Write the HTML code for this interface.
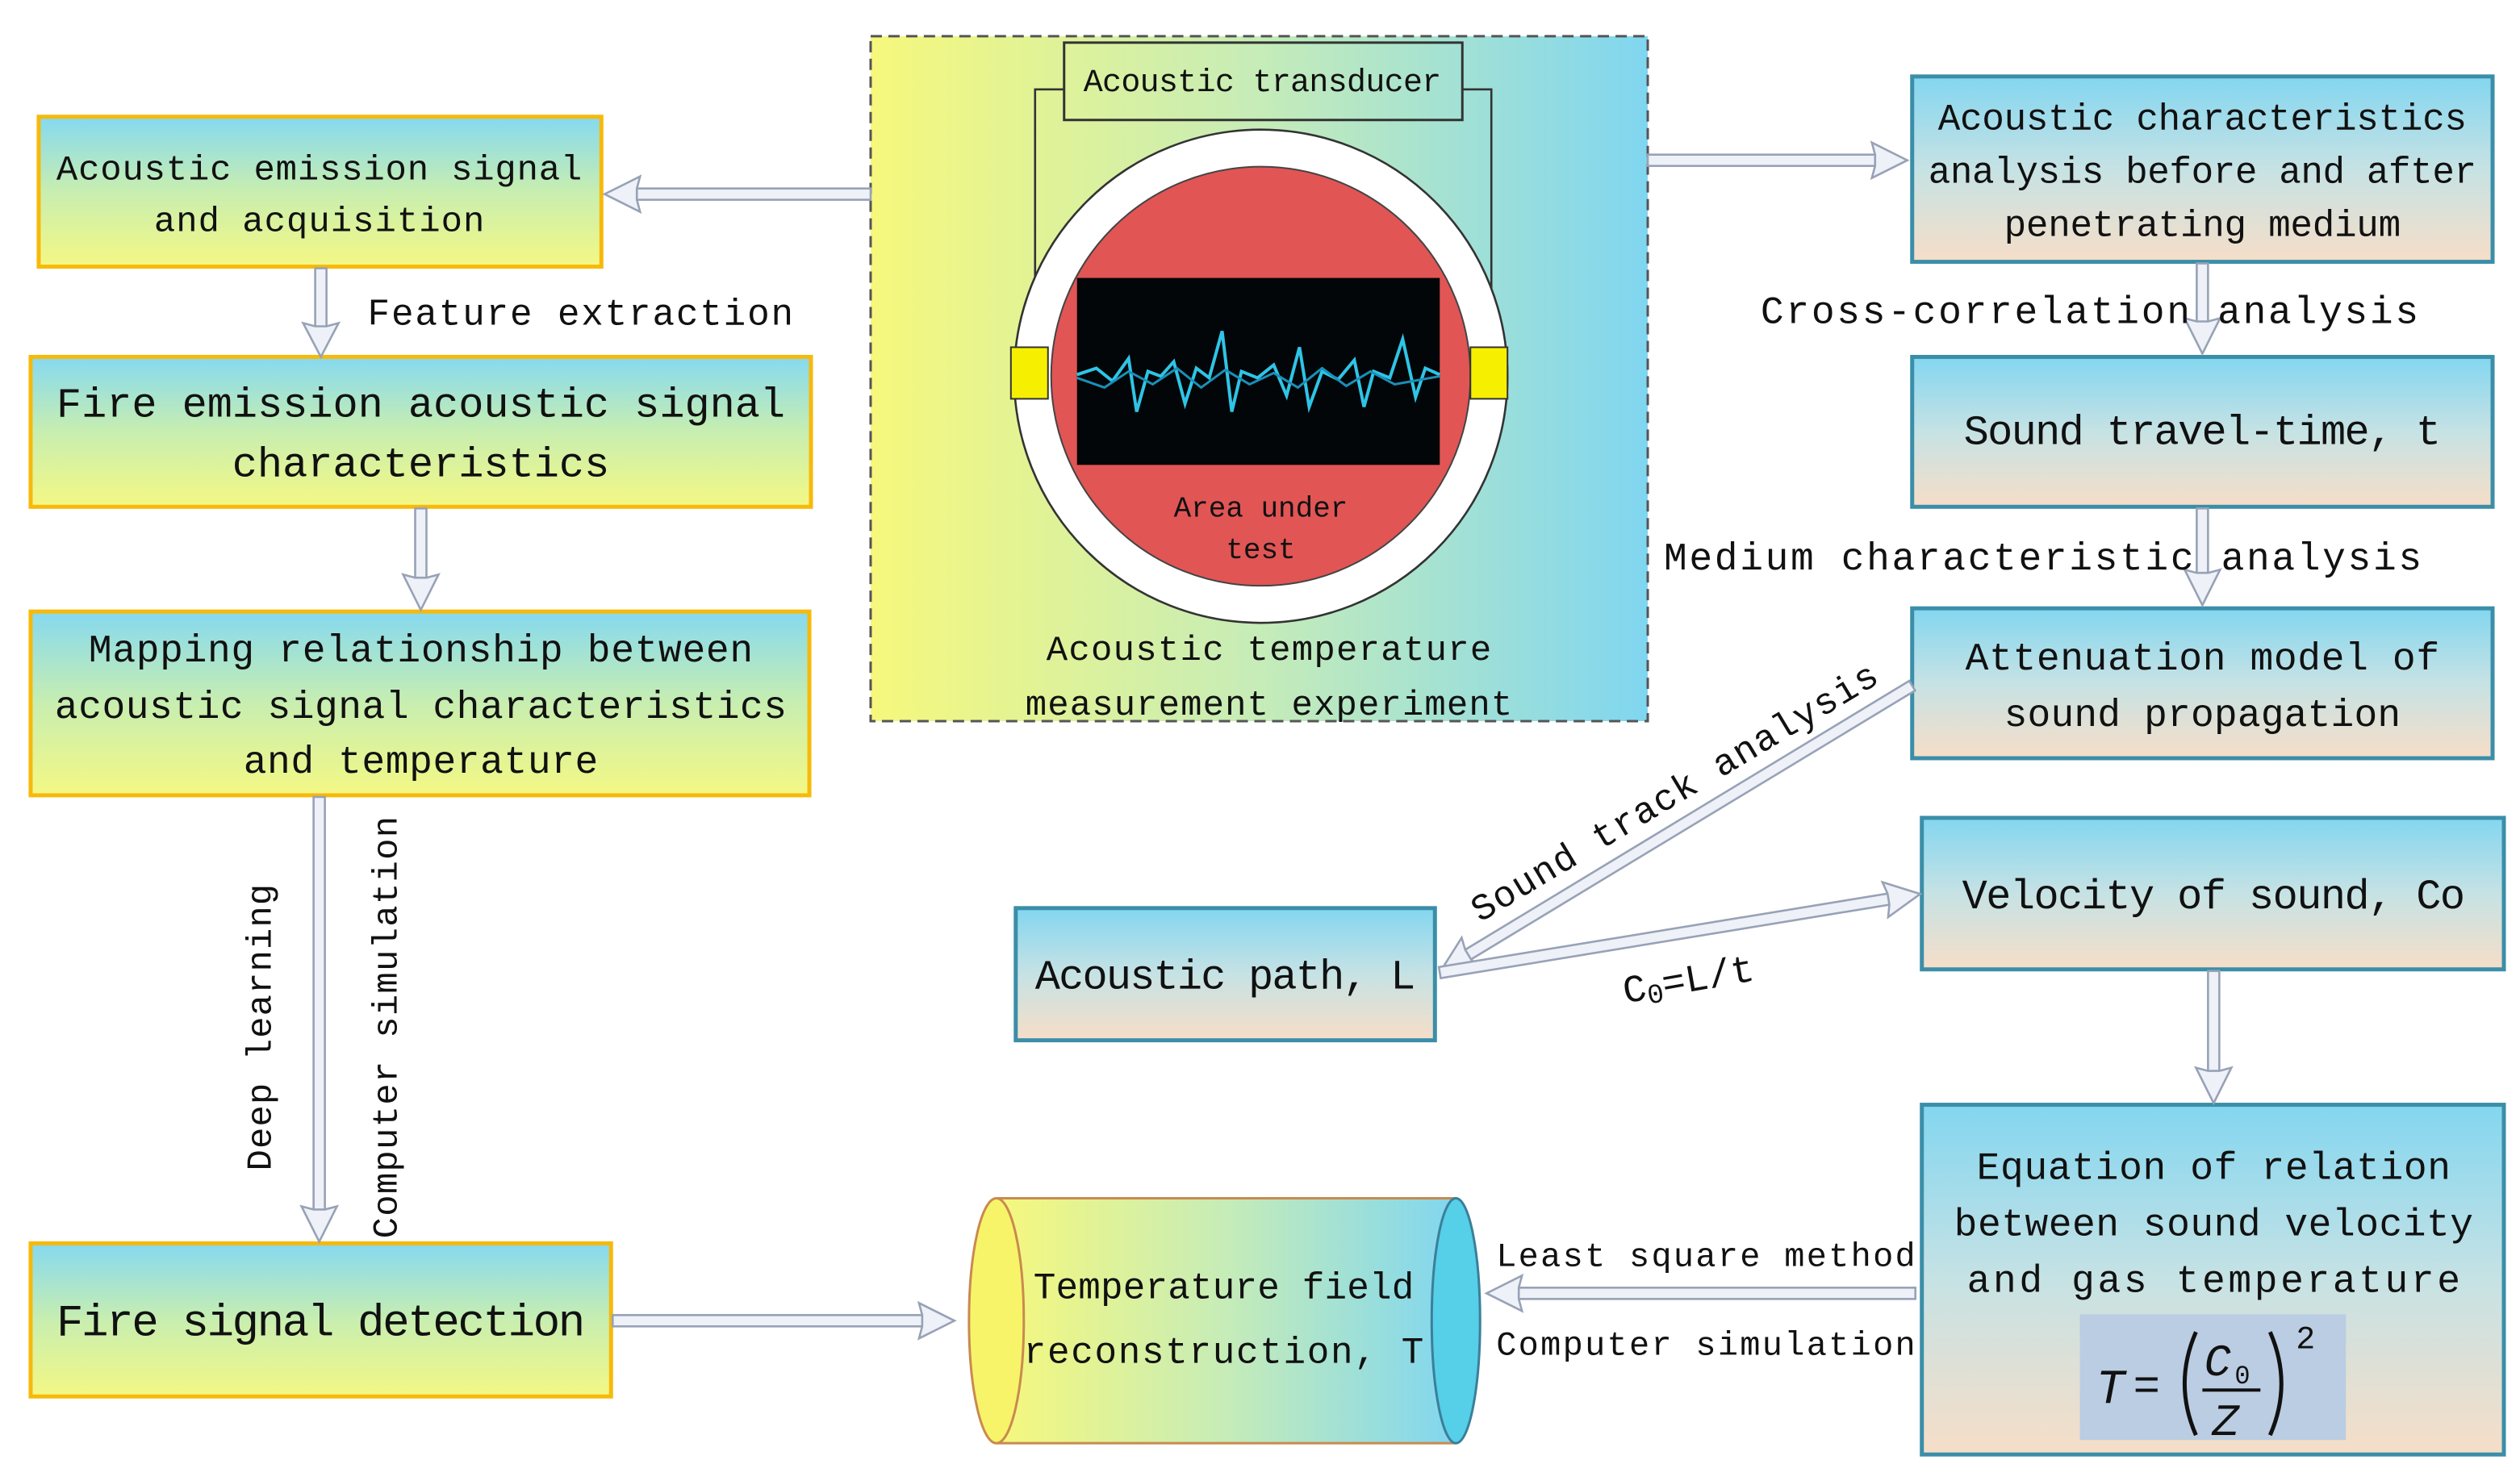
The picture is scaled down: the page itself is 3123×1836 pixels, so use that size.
<!DOCTYPE html>
<html><head><meta charset="utf-8"><style>
html,body{margin:0;padding:0;background:#fff;}
svg{display:block;}
text{font-family:"Liberation Mono","Noto Sans CJK SC",monospace;fill:#111;}
</style></head><body>
<svg width="3123" height="1836" viewBox="0 0 1563 918" xmlns="http://www.w3.org/2000/svg">
<defs>
<linearGradient id="gy" x1="0" y1="0" x2="0" y2="1"><stop offset="0" stop-color="#85d9f0"/><stop offset="0.5" stop-color="#c8eeb0"/><stop offset="1" stop-color="#f4f884"/></linearGradient>
<linearGradient id="gp" x1="0" y1="0" x2="0" y2="1"><stop offset="0" stop-color="#83d6f0"/><stop offset="0.5" stop-color="#c6e2e4"/><stop offset="1" stop-color="#f6dec8"/></linearGradient>
<linearGradient id="gh" x1="0" y1="0" x2="1" y2="0"><stop offset="0" stop-color="#f6f87c"/><stop offset="0.5" stop-color="#c6ecb8"/><stop offset="1" stop-color="#80d6f0"/></linearGradient>
</defs>

<!-- center dashed panel -->
<rect x="540" y="22" width="482" height="425" fill="url(#gh)" stroke="#555" stroke-width="1.5" stroke-dasharray="7,4"/>
<polyline points="660,55 642,55 642,218" fill="none" stroke="#333" stroke-width="1.3"/>
<polyline points="907,55 925,55 925,218" fill="none" stroke="#333" stroke-width="1.3"/>
<rect x="660" y="26" width="247" height="48" fill="none" stroke="#333" stroke-width="1.5"/>
<text x="783" y="56" font-size="20" text-anchor="middle" textLength="222">Acoustic transducer</text>
<circle cx="782" cy="233" r="153" fill="#fff" stroke="#333" stroke-width="1.3"/>
<circle cx="782" cy="233" r="130" fill="#e25555" stroke="#444" stroke-width="1"/>
<rect x="668" y="172" width="225" height="116" fill="#030608"/>
<polyline points="668,232 680,228 690,236 700,222 705,255 712,230 720,233 728,224 735,250 742,228 750,234 758,205 764,255 770,230 780,234 790,226 798,245 806,215 812,252 820,230 830,235 840,223 846,252 852,230 862,234 870,210 878,246 884,228 893,232" fill="none" stroke="#2fc4e6" stroke-width="2"/>
<polyline points="668,234 685,240 700,230 715,238 730,228 745,240 760,229 775,238 790,231 805,240 820,228 835,239 850,230 865,238 893,233" fill="none" stroke="#1a8fb8" stroke-width="1.5"/>
<rect x="627" y="215" width="23" height="32" fill="#f6f000" stroke="#333" stroke-width="1"/>
<rect x="912" y="215" width="23" height="32" fill="#f6f000" stroke="#333" stroke-width="1"/>
<text x="782" y="320" font-size="18" text-anchor="middle">Area under</text>
<text x="782" y="346" font-size="18" text-anchor="middle">test</text>
<text x="787" y="409" font-size="22" text-anchor="middle" textLength="276">Acoustic temperature</text>
<text x="787" y="443" font-size="22" text-anchor="middle" textLength="302">measurement experiment</text>

<!-- left boxes -->
<rect x="24" y="72" width="349" height="93" fill="url(#gy)" stroke="#f7b90a" stroke-width="2.5"/>
<text x="198" y="111" font-size="22" text-anchor="middle" textLength="326">Acoustic emission signal</text>
<text x="198" y="143" font-size="22" text-anchor="middle" textLength="205">and acquisition</text>
<rect x="19" y="221" width="484" height="93" fill="url(#gy)" stroke="#f7b90a" stroke-width="2.5"/>
<text x="261" y="258" font-size="26" text-anchor="middle" textLength="452">Fire emission acoustic signal</text>
<text x="261" y="295" font-size="26" text-anchor="middle" textLength="234">characteristics</text>
<rect x="19" y="379" width="483" height="114" fill="url(#gy)" stroke="#f7b90a" stroke-width="2.5"/>
<text x="261" y="410" font-size="24" text-anchor="middle" textLength="412">Mapping relationship between</text>
<text x="261" y="445" font-size="24" text-anchor="middle" textLength="454">acoustic signal characteristics</text>
<text x="261" y="479" font-size="24" text-anchor="middle" textLength="220">and temperature</text>
<rect x="19" y="771" width="360" height="95" fill="url(#gy)" stroke="#f7b90a" stroke-width="2.5"/>
<text x="199" y="828" font-size="28" text-anchor="middle" textLength="328">Fire signal detection</text>

<!-- right boxes -->
<rect x="1186" y="47" width="360" height="115" fill="url(#gp)" stroke="#3b8ea8" stroke-width="2.5"/>
<text x="1366" y="80" font-size="23" text-anchor="middle" textLength="328">Acoustic characteristics</text>
<text x="1366" y="113" font-size="23" text-anchor="middle" textLength="340">analysis before and after</text>
<text x="1366" y="146" font-size="23" text-anchor="middle" textLength="246">penetrating medium</text>
<rect x="1186" y="221" width="360" height="93" fill="url(#gp)" stroke="#3b8ea8" stroke-width="2.5"/>
<text x="1366" y="275" font-size="26" text-anchor="middle" textLength="296">Sound travel-time, t</text>
<rect x="1186" y="377" width="360" height="93" fill="url(#gp)" stroke="#3b8ea8" stroke-width="2.5"/>
<text x="1366" y="415" font-size="24" text-anchor="middle" textLength="294">Attenuation model of</text>
<text x="1366" y="450" font-size="24" text-anchor="middle" textLength="246">sound propagation</text>
<rect x="1192" y="507" width="361" height="94" fill="url(#gp)" stroke="#3b8ea8" stroke-width="2.5"/>
<text x="1373" y="563" font-size="26" text-anchor="middle" textLength="312">Velocity of sound, Co</text>
<rect x="630" y="563" width="260" height="82" fill="url(#gp)" stroke="#3b8ea8" stroke-width="2.5"/>
<text x="760" y="613" font-size="26" text-anchor="middle" textLength="236">Acoustic path, L</text>
<rect x="1192" y="685" width="361" height="217" fill="url(#gp)" stroke="#3b8ea8" stroke-width="2.5"/>
<text x="1373" y="731" font-size="24" text-anchor="middle" textLength="294">Equation of relation</text>
<text x="1373" y="766" font-size="24" text-anchor="middle" textLength="322">between sound velocity</text>
<text x="1373" y="801" font-size="24" text-anchor="middle" textLength="306">and gas temperature</text>
<rect x="1290" y="815" width="165" height="78" fill="#bacde2"/>
<text x="1300" y="870" font-size="30" font-family="Liberation Serif" font-style="italic">T</text>
<text x="1323" y="868" font-size="28" font-family="Liberation Serif">=</text>
<path d="M1362,826 Q1348,858 1362,890" fill="none" stroke="#111" stroke-width="2.5"/>
<path d="M1408,826 Q1422,858 1408,890" fill="none" stroke="#111" stroke-width="2.5"/>
<text x="1367" y="853" font-size="28" font-family="Liberation Serif" font-style="italic">C</text>
<text x="1386" y="858" font-size="16" font-family="Liberation Serif">0</text>
<line x1="1366" y1="862" x2="1402" y2="862" stroke="#111" stroke-width="2"/>
<text x="1372" y="890" font-size="28" font-family="Liberation Serif" font-style="italic">Z</text>
<text x="1424" y="836" font-size="20" font-family="Liberation Serif">2</text>

<!-- cylinder -->
<path d="M618,743 H903 V895 H618 Z" fill="url(#gh)"/>
<line x1="618" y1="743" x2="903" y2="743" stroke="#c98a50" stroke-width="1.5"/>
<line x1="618" y1="895" x2="903" y2="895" stroke="#c98a50" stroke-width="1.5"/>
<ellipse cx="618" cy="819" rx="17" ry="76" fill="#f7f46a" stroke="#c98a50" stroke-width="1.5"/>
<ellipse cx="903" cy="819" rx="15" ry="76" fill="#56cfe8" stroke="#3b7f99" stroke-width="1.5"/>
<text x="759" y="805" font-size="23" text-anchor="middle" textLength="236">Temperature field</text>
<text x="759" y="845" font-size="23" text-anchor="middle" textLength="248">reconstruction, T</text>

<!-- arrows -->
<g fill="#eef1f8" stroke="#98a2b6" stroke-width="1.3">
<g transform="translate(540,120) rotate(180)"><rect x="0" y="-3.5" width="147" height="7"/><polygon points="145,-3.5 143,-11 165,0 143,11 145,3.5"/></g>
<g transform="translate(1022,99)"><rect x="0" y="-3.5" width="143" height="7"/><polygon points="141,-3.5 139,-11 161,0 139,11 141,3.5"/></g>
<g transform="translate(199,166) rotate(90)"><rect x="0" y="-3.5" width="38" height="7"/><polygon points="36,-3.5 34,-11 55,0 34,11 36,3.5"/></g>
<g transform="translate(261,315) rotate(90)"><rect x="0" y="-3.5" width="45" height="7"/><polygon points="43,-3.5 41,-11 63,0 41,11 43,3.5"/></g>
<g transform="translate(198,494) rotate(90)"><rect x="0" y="-3.5" width="258" height="7"/><polygon points="256,-3.5 254,-11 276,0 254,11 256,3.5"/></g>
<g transform="translate(1366,163) rotate(90)"><rect x="0" y="-3.5" width="38" height="7"/><polygon points="36,-3.5 34,-11 56,0 34,11 36,3.5"/></g>
<g transform="translate(1366,315) rotate(90)"><rect x="0" y="-3.5" width="42" height="7"/><polygon points="40,-3.5 38,-11 60,0 38,11 40,3.5"/></g>
<g transform="translate(1186,425) rotate(148.8)"><rect x="0" y="-3.5" width="324" height="7"/><polygon points="322,-3.5 320,-11 342,0 320,11 322,3.5"/></g>
<g transform="translate(893,603) rotate(-9.3)"><rect x="0" y="-3.5" width="284" height="7"/><polygon points="282,-3.5 280,-11 302,0 280,11 282,3.5"/></g>
<g transform="translate(1373,602) rotate(90)"><rect x="0" y="-3.5" width="64" height="7"/><polygon points="62,-3.5 60,-11 82,0 60,11 62,3.5"/></g>
<g transform="translate(1188,802) rotate(180)"><rect x="0" y="-3.5" width="248" height="7"/><polygon points="246,-3.5 244,-11 266,0 244,11 246,3.5"/></g>
<g transform="translate(380,819)"><rect x="0" y="-3.5" width="194" height="7"/><polygon points="192,-3.5 190,-11 212,0 190,11 192,3.5"/></g>
</g>

<!-- connector labels -->
<text x="228" y="201" font-size="23" textLength="264">Feature extraction</text>
<text x="1092" y="200" font-size="24" textLength="408">Cross-correlation analysis</text>
<text x="1032" y="353" font-size="24" textLength="470">Medium characteristic analysis</text>
<text font-size="23" transform="translate(918,572) rotate(-31)" textLength="290">Sound track analysis</text>
<text font-size="24" font-family="Liberation Sans" transform="translate(1008,622) rotate(-10)">C<tspan font-size="17" dy="3">0</tspan><tspan dy="-3">=L/t</tspan></text>
<text font-size="22" transform="translate(168,726) rotate(-90)" textLength="178">Deep learning</text>
<text font-size="22" transform="translate(246,768) rotate(-90)" textLength="262">Computer simulation</text>
<text x="928" y="785" font-size="21" textLength="260">Least square method</text>
<text x="928" y="840" font-size="21" textLength="260">Computer simulation</text>
</svg>
</body></html>
